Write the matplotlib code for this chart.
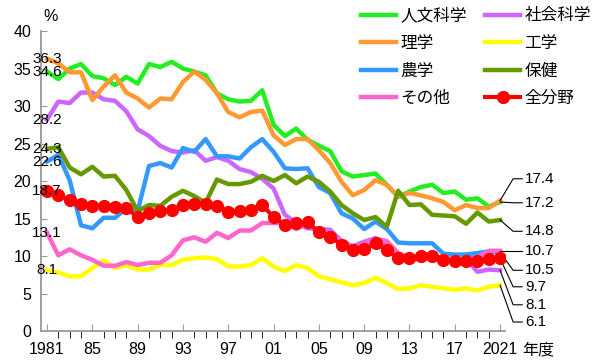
import matplotlib
matplotlib.use('Agg')
import matplotlib.pyplot as plt
import numpy as np

plt.rcParams['font.family'] = ['Liberation Sans', 'Noto Sans CJK JP']

years = np.arange(1981, 2022)

# series values (%), 1981..2021
jinbun = [34.6, 33.6, 35.0, 35.6, 34.0, 33.7, 32.8, 33.9, 33.0, 35.6,
          35.2, 35.9, 35.0, 34.6, 34.1, 31.7, 30.9, 30.6, 30.7, 32.1,
          27.5, 26.0, 27.0, 25.5, 24.7, 24.0, 21.3, 20.6, 20.8, 21.0,
          19.5, 17.9, 18.6, 19.2, 19.5, 18.4, 18.6, 17.5, 17.7, 16.6, 17.2]
shakai = [28.2, 30.6, 30.4, 31.8, 31.8, 30.9, 30.7, 29.3, 26.9, 26.0,
          24.7, 24.0, 23.8, 24.1, 22.7, 23.2, 22.7, 21.6, 21.2, 20.3,
          19.0, 15.5, 14.4, 13.7, 13.6, 13.5, 12.0, 11.3, 11.9, 12.4,
          11.5, 9.9, 9.5, 9.6, 9.9, 9.7, 9.6, 9.6, 7.9, 8.2, 8.1]
rigaku = [36.3, 35.7, 34.5, 34.5, 30.8, 32.6, 34.1, 31.8, 31.0, 29.8,
          31.0, 30.9, 33.2, 34.6, 33.5, 31.7, 29.2, 28.5, 29.2, 29.4,
          26.1, 24.8, 25.6, 25.6, 24.1, 22.4, 19.9, 18.1, 18.8, 20.1,
          19.5, 17.9, 18.4, 18.1, 17.7, 17.2, 16.1, 16.8, 16.4, 16.4, 17.4]
kougaku = [8.1, 7.8, 7.3, 7.3, 8.4, 9.4, 8.4, 8.8, 8.2, 8.2,
           8.8, 8.8, 9.5, 9.7, 9.8, 9.6, 8.6, 8.6, 8.8, 9.7,
           8.6, 8.0, 8.8, 8.4, 7.3, 6.9, 6.5, 6.1, 6.4, 7.1,
           6.4, 5.6, 5.7, 6.1, 5.9, 5.7, 5.5, 5.7, 5.4, 5.9, 6.1]
nougaku = [22.6, 23.5, 20.1, 14.1, 13.7, 15.1, 15.1, 16.4, 16.0, 22.0,
           22.4, 21.8, 24.4, 23.9, 25.6, 23.3, 23.3, 23.0, 24.5, 25.6,
           23.9, 21.7, 21.6, 21.7, 19.2, 18.4, 15.7, 15.0, 13.6, 14.6,
           13.6, 11.8, 11.7, 11.7, 11.7, 10.3, 10.2, 10.2, 10.4, 10.6, 10.5]
hoken = [24.3, 24.5, 21.8, 20.9, 21.9, 20.6, 20.7, 18.8, 16.0, 16.8,
         16.7, 17.9, 18.7, 18.0, 17.1, 20.2, 19.6, 19.6, 19.9, 20.7,
         20.0, 20.8, 19.7, 20.6, 19.9, 18.6, 16.8, 15.7, 14.8, 15.2,
         13.9, 18.7, 16.8, 16.9, 15.5, 15.4, 15.3, 14.3, 15.8, 14.6, 14.8]
sonota = [13.1, 10.1, 10.9, 10.1, 9.5, 8.7, 8.7, 9.2, 8.8, 9.1,
          9.1, 10.1, 12.1, 12.5, 11.9, 13.1, 12.4, 13.4, 13.4, 14.4,
          14.4, 14.4, 13.6, 14.4, 13.2, 12.7, 11.9, 11.2, 11.6, 12.3,
          12.0, 10.4, 9.8, 9.8, 9.9, 9.6, 9.6, 9.6, 9.8, 10.7, 10.7]
zenbunya = [18.7, 18.1, 17.5, 16.9, 16.7, 16.7, 16.5, 16.4, 15.2, 15.7,
            16.0, 16.1, 16.8, 17.0, 16.9, 16.7, 15.9, 16.0, 16.1, 16.8,
            15.2, 14.2, 14.4, 14.5, 13.2, 12.6, 11.5, 10.8, 10.9, 11.7,
            10.8, 9.7, 9.8, 10.0, 10.0, 9.5, 9.3, 9.3, 9.4, 9.6, 9.7]

names = ['人文科学', '社会科学', '理学', '工学', '農学', '保健', 'その他', '全分野']
series = [jinbun, shakai, rigaku, kougaku, nougaku, hoken, sonota, zenbunya]
colors = ['#22EE22', '#CC66FF', '#FF9933', '#FFFF00', '#3399FF', '#669900',
          '#FF66CC', '#FF0000']

xtick_pos = [1981, 1985, 1989, 1993, 1997, 2001, 2005, 2009, 2013, 2017, 2021]
xtick_lab = ['1981', '85', '89', '93', '97', '01', '05', '09', '13', '17', '2021']

fig = plt.figure(figsize=(6.0, 3.61), dpi=100)
ax = fig.add_axes([0.068, 0.083, 0.774, 0.831])

lines = {}
for name, vals, c in zip(names, series, colors):
    if name == '全分野':
        ln, = ax.plot(years, vals, color=c, lw=3, marker='o', ms=8.5, zorder=5)
    else:
        ln, = ax.plot(years, vals, color=c, lw=3.2)
    lines[name] = ln

ax.set_xlim(1980.45, 2021.45)
ax.set_ylim(0, 40)
ax.set_yticks(range(0, 41, 5))
ax.set_xticks(xtick_pos)
ax.set_xticklabels(xtick_lab)
ax.set_xticks(years, minor=True)
ax.tick_params(axis='both', direction='in', labelsize=11.5, color='#999999')
ax.tick_params(axis='y', length=4, pad=7)
ax.tick_params(axis='x', which='both', length=5, pad=8)
for s in ['top', 'right']:
    ax.spines[s].set_visible(False)
for s in ['left', 'bottom']:
    ax.spines[s].set_color('#999999')
    ax.spines[s].set_linewidth(1.3)

ax.text(0.02, 1.025, '%', transform=ax.transAxes, fontsize=11.5,
        ha='center', va='bottom')
ax.text(2022.95, -0.063, '年度', transform=ax.get_xaxis_transform(),
        fontsize=11.5, ha='left', va='center', clip_on=False)

# start values at left
for vals in series:
    ax.text(1981, vals[0], f'{vals[0]:.1f}', fontsize=11, ha='center',
            va='center', zorder=6)

# end values at right with leader lines (label heights are layout only)
end_order = ['理学', '人文科学', '保健', 'その他', '農学', '全分野', '社会科学', '工学']
label_y = [20.3, 17.1, 13.3, 10.7, 8.1, 5.9, 3.5, 1.2]
for name, ly in zip(end_order, label_y):
    v = series[names.index(name)][-1]
    ax.plot([2021, 2022.15, 2022.95], [v, ly, ly], color='black', lw=0.8,
            clip_on=False)
    ax.text(2023.2, ly, f'{v:.1f}', fontsize=11, ha='left', va='center',
            clip_on=False)

leg_order = ['人文科学', '理学', '農学', 'その他', '社会科学', '工学', '保健', '全分野']
fig.legend([lines[n] for n in leg_order], leg_order, ncol=2, loc='upper right',
           bbox_to_anchor=(1.01, 1.02), frameon=False, fontsize=12,
           handlelength=2.1, handletextpad=0.25, columnspacing=1.1,
           labelspacing=0.75)

fig.savefig('out.png', dpi=100)
